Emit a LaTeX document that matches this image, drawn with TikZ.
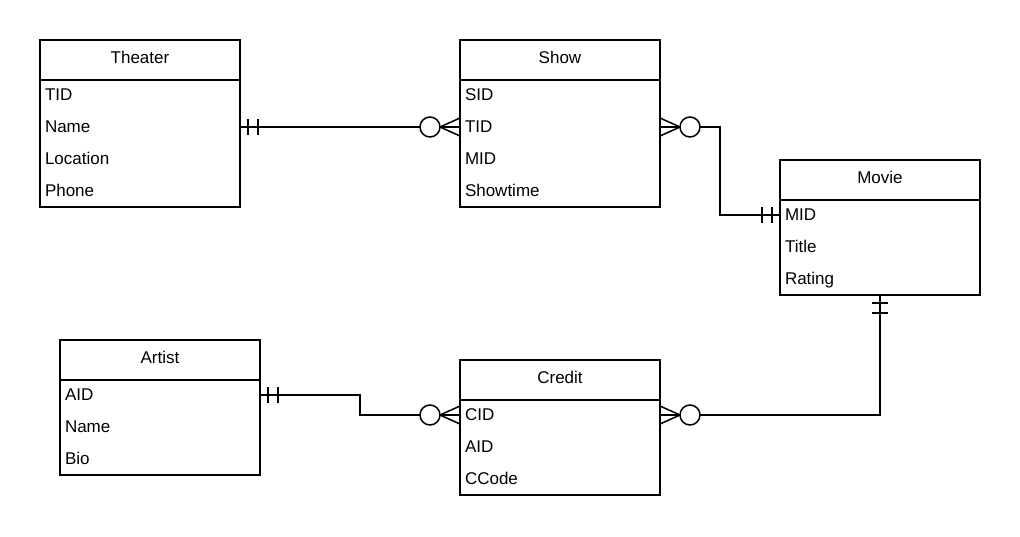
\documentclass[tikz,border=0pt]{standalone}
\usepackage{fontspec}
\setmainfont{Liberation Sans}
\usetikzlibrary{positioning,calc}

% cardinality marks: #1 = point on the entity border, #2 = direction away from it
\newcommand{\erOne}[2]{%
  \begin{scope}[shift={(#1)}, rotate=#2]
    \draw (8,-8) -- (8,8) (18,-8) -- (18,8);
  \end{scope}}
\newcommand{\erMany}[2]{%
  \begin{scope}[shift={(#1)}, rotate=#2]
    \draw (0,-9) -- (20,0) -- (0,9);
    \draw[fill=white] (30,0) circle (10);
  \end{scope}}

\begin{document}
\begin{tikzpicture}[
    x=1pt, y=-1pt,
    line width=1.5pt,
    % --- STYLES ---
    header/.style={
        draw=black, fill=white,
        minimum width=200pt, minimum height=40pt,
        inner sep=0pt, outer sep=0pt,
        anchor=north west,
        text height=12pt, text depth=6pt,
        font=\fontsize{17}{20}\selectfont
    },
    body/.style={
        draw=black, fill=white,
        minimum width=200pt,
        inner sep=0pt, outer sep=0pt
    },
    attr/.style={
        text width=190pt, align=left,
        minimum height=32pt,
        inner sep=0pt, outer sep=0pt,
        text height=11pt, text depth=0pt,
        font=\fontsize{17}{20}\selectfont
    }
]
\useasboundingbox (0,0) rectangle (1020,536);

% ===== 1. THEATER =====
\node[header] (th-head) at (40,40) {Theater};
\node[body, below=0pt of th-head, minimum height=127pt] (th-body) {};
\node[attr, anchor=north west] (th-tid) at ($(th-body.north west)+(5,-1)$) {TID};
\node[attr, below=0pt of th-tid] (th-name) {Name};
\node[attr, below=0pt of th-name] (th-loc) {Location};
\node[attr, below=0pt of th-loc] (th-phone) {Phone};

% ===== 2. SHOW =====
\node[header] (sh-head) at (460,40) {Show};
\node[body, below=0pt of sh-head, minimum height=127pt] (sh-body) {};
\node[attr, anchor=north west] (sh-sid) at ($(sh-body.north west)+(5,-1)$) {SID};
\node[attr, below=0pt of sh-sid] (sh-tid) {TID};
\node[attr, below=0pt of sh-tid] (sh-mid) {MID};
\node[attr, below=0pt of sh-mid] (sh-time) {Showtime};

% ===== 3. MOVIE =====
\node[header] (mv-head) at (780,160) {Movie};
\node[body, below=0pt of mv-head, minimum height=95pt] (mv-body) {};
\node[attr, anchor=north west] (mv-mid) at ($(mv-body.north west)+(5,-1)$) {MID};
\node[attr, below=0pt of mv-mid] (mv-title) {Title};
\node[attr, below=0pt of mv-title] (mv-rating) {Rating};

% ===== 4. ARTIST =====
\node[header] (ar-head) at (60,340) {Artist};
\node[body, below=0pt of ar-head, minimum height=95pt] (ar-body) {};
\node[attr, anchor=north west] (ar-aid) at ($(ar-body.north west)+(5,-1)$) {AID};
\node[attr, below=0pt of ar-aid] (ar-name) {Name};
\node[attr, below=0pt of ar-name] (ar-bio) {Bio};

% ===== 5. CREDIT =====
\node[header] (cr-head) at (460,360) {Credit};
\node[body, below=0pt of cr-head, minimum height=95pt] (cr-body) {};
\node[attr, anchor=north west] (cr-cid) at ($(cr-body.north west)+(5,-1)$) {CID};
\node[attr, below=0pt of cr-cid] (cr-aid) {AID};
\node[attr, below=0pt of cr-aid] (cr-code) {CCode};

% ===== 6. RELATIONSHIPS =====
\draw (th-body.east |- th-name) -- (sh-body.west |- sh-tid);
\draw (sh-body.east |- sh-tid) -- ++(60,0) |- (mv-body.west |- mv-mid);
\draw (ar-body.east |- ar-aid) -- ++(100,0) |- (cr-body.west |- cr-cid);
\draw (cr-body.east |- cr-cid) -| (mv-body.south);

% -- Cardinality --
\erOne{th-body.east |- th-name}{0}
\erMany{sh-body.west |- sh-tid}{180}
\erMany{sh-body.east |- sh-tid}{0}
\erOne{mv-body.west |- mv-mid}{180}
\erOne{ar-body.east |- ar-aid}{0}
\erMany{cr-body.west |- cr-cid}{180}
\erMany{cr-body.east |- cr-cid}{0}
\erOne{mv-body.south}{-90}

\end{tikzpicture}
\end{document}
